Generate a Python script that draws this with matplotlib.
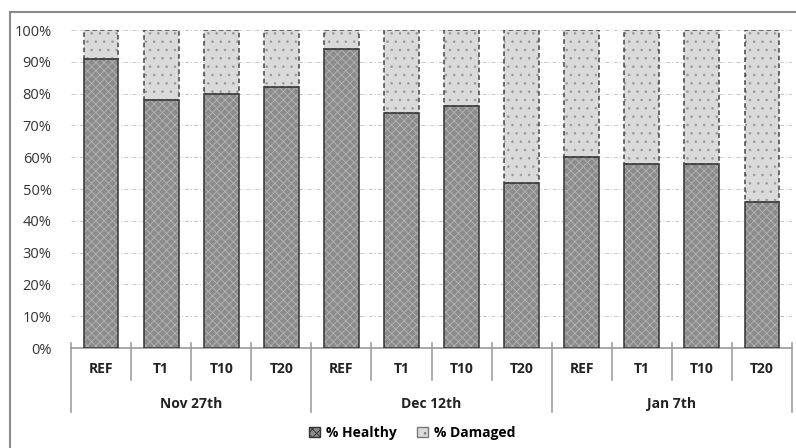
import matplotlib

matplotlib.use("Agg")
import matplotlib.pyplot as plt
import numpy as np
from matplotlib.lines import Line2D
from matplotlib.patches import Patch
from matplotlib.transforms import blended_transform_factory

plt.rcParams["font.family"] = ["Open Sans", "DejaVu Sans"]
plt.rcParams["hatch.linewidth"] = 0.6

# Survey dates and treatments, healthy share per bar (percent)
dates = ["Nov 27th", "Dec 12th", "Jan 7th"]
treatments = ["REF", "T1", "T10", "T20"]
healthy = [91, 78, 80, 82, 94, 74, 76, 52, 60, 58, 58, 46]
damaged = [100 - h for h in healthy]
yticks = [0, 10, 20, 30, 40, 50, 60, 70, 80, 90, 100]

W, H = 796, 448
fig = plt.figure(figsize=(W / 100, H / 100), dpi=100)
ax = fig.add_axes([71 / W, 1 - 348 / H, (792 - 71) / W, (348 - 30) / H])

n = len(healthy)
x = np.arange(n)
bar_w = 0.58

# fill + light hatch first, then the outlines on top
ax.bar(x, healthy, bar_w, color="#8c8c8c", edgecolor="#b4b4b4", hatch="xxxx",
       linewidth=0, zorder=3)
ax.bar(x, healthy, bar_w, fill=False, edgecolor="#333333", linewidth=1.1,
       zorder=4)
ax.bar(x, damaged, bar_w, bottom=healthy, color="#dadada", edgecolor="#9a9a9a",
       hatch="..", linewidth=0, zorder=3)
ax.bar(x, damaged, bar_w, bottom=healthy, fill=False, edgecolor="#444444",
       linewidth=1.1, linestyle=(0, (3, 2)), zorder=4)

ax.set_xlim(-0.5, n - 0.5)
ax.set_ylim(0, 100)
ax.set_yticks(yticks)
ax.set_yticklabels([f"{v}%" for v in yticks], fontsize=10.5, color="#333333")
ax.tick_params(axis="y", length=0, pad=14)
ax.set_xticks([])
ax.grid(True, axis="y", color="#c8c8c8", linestyle=(0, (4, 2, 1, 2)),
        linewidth=0.7, zorder=0)
for side in ("top", "right", "left"):
    ax.spines[side].set_visible(False)
ax.spines["bottom"].set_color("#9a9a9a")
ax.spines["bottom"].set_linewidth(1.2)

# two-level category axis
tr = blended_transform_factory(ax.transData, fig.transFigure)
y_tick_top = 1 - 343 / H
y_tick_bot = 1 - 380 / H
y_grp_bot = 1 - 412 / H
for i in range(n + 1):
    xb = i - 0.5
    bottom = y_grp_bot if i % len(treatments) == 0 else y_tick_bot
    ax.add_line(Line2D([xb, xb], [y_tick_top, bottom], transform=tr,
                       color="#a0a0a0", linewidth=1.2, clip_on=False))
for i in range(n):
    ax.text(i, 1 - 369 / H, treatments[i % len(treatments)], transform=tr,
            ha="center", va="center", fontsize=10, fontweight="bold",
            color="#222222")
for g, d in enumerate(dates):
    xc = g * len(treatments) + (len(treatments) - 1) / 2
    ax.text(xc, 1 - 404 / H, d, transform=tr, ha="center", va="center",
            fontsize=10, fontweight="bold", color="#222222")

handles = [
    Patch(facecolor="#8c8c8c", edgecolor="#333333", hatch="xxxx", label="% Healthy"),
    Patch(facecolor="#dadada", edgecolor="#777777", hatch="..", label="% Damaged"),
]
fig.legend(handles=handles, loc="center", bbox_to_anchor=(412 / W, 1 - 433 / H),
           ncol=2, frameon=False, handlelength=0.8, handleheight=0.8,
           handletextpad=0.4, columnspacing=1.5,
           prop={"size": 10, "weight": "bold"})

# outer chart frame (left and top edges visible)
fig.add_artist(Line2D([10 / W, 10 / W], [0, 1 - 12 / H], color="#8a8a8a",
                      linewidth=1.5, transform=fig.transFigure))
fig.add_artist(Line2D([10 / W, 1], [1 - 12 / H, 1 - 12 / H], color="#8a8a8a",
                      linewidth=1.5, transform=fig.transFigure))

fig.savefig("out.png", dpi=100)
